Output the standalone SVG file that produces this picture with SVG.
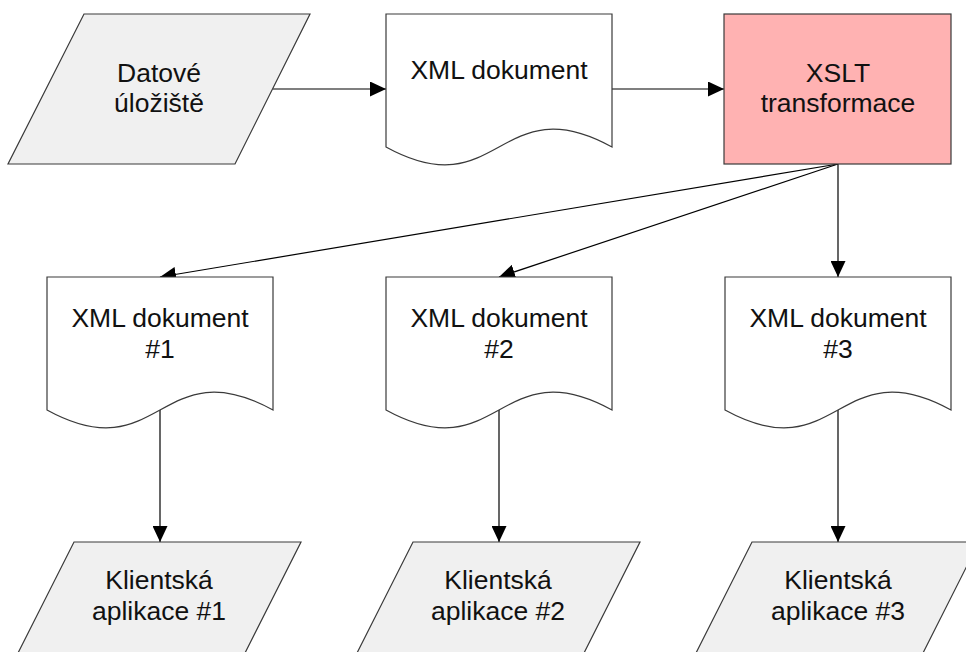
<svg xmlns="http://www.w3.org/2000/svg" width="966" height="652" viewBox="0 0 966 652">
  <defs>
    <marker id="arrow" markerUnits="userSpaceOnUse" markerWidth="17" markerHeight="15" refX="16" refY="7.5" orient="auto">
      <path d="M0,0 L16,7.5 L0,15 z" fill="#000"/>
    </marker>
    <style>
      .data { fill: #f0f0f0; stroke: #3a3a3a; stroke-width: 1.2; }
      .doc { fill: #ffffff; stroke: #3a3a3a; stroke-width: 1.2; }
      .proc { fill: #ffb2b2; stroke: #3a3a3a; stroke-width: 1.2; }
      .edge { fill: none; stroke: #000; stroke-width: 1.2; marker-end: url(#arrow); }
      text { font-family: "Liberation Sans", Arial, sans-serif; font-size: 26.5px; fill: #111; text-anchor: middle; }
    </style>
  </defs>

  <rect width="966" height="652" fill="#ffffff"/>

  <!-- connectors -->
  <g id="connectors">
    <line class="edge" x1="273" y1="89" x2="386" y2="89"/>
    <line class="edge" x1="612" y1="89" x2="724" y2="89"/>
    <line class="edge" x1="838" y1="164" x2="160" y2="277"/>
    <line class="edge" x1="838" y1="164" x2="499" y2="277"/>
    <line class="edge" x1="838" y1="164" x2="838" y2="277"/>
    <line class="edge" x1="160" y1="410" x2="160" y2="542"/>
    <line class="edge" x1="499" y1="410" x2="499" y2="542"/>
    <line class="edge" x1="838" y1="410" x2="838" y2="542"/>
  </g>

  <!-- data store -->
  <g id="datove-uloziste">
    <path class="data" d="M84,14 L310,14 L235,164 L8,164 Z"/>
    <text x="159" y="82">Datové</text>
    <text x="159" y="112">úložiště</text>
  </g>

  <!-- source document -->
  <g id="xml-dokument">
    <path class="doc" d="M386,14 L612,14 L612,147 C499,85 499,209 386,147 Z"/>
    <text x="499" y="79">XML dokument</text>
  </g>

  <!-- transformation -->
  <g id="xslt-transformace">
    <rect class="proc" x="724" y="14" width="227" height="150"/>
    <text x="838" y="82">XSLT</text>
    <text x="838" y="112">transformace</text>
  </g>

  <!-- output documents -->
  <g id="xml-dokument-1">
    <path class="doc" d="M47,277 L273,277 L273,410 C160,348 160,472 47,410 Z"/>
    <text x="160" y="327">XML dokument</text>
    <text x="160" y="358">#1</text>
  </g>
  <g id="xml-dokument-2">
    <path class="doc" d="M386,277 L612,277 L612,410 C499,348 499,472 386,410 Z"/>
    <text x="499" y="327">XML dokument</text>
    <text x="499" y="358">#2</text>
  </g>
  <g id="xml-dokument-3">
    <path class="doc" d="M725,277 L951,277 L951,410 C838,348 838,472 725,410 Z"/>
    <text x="838" y="327">XML dokument</text>
    <text x="838" y="358">#3</text>
  </g>

  <!-- client applications -->
  <g id="klientska-aplikace-1">
    <path class="data" d="M74,542 L301,542 L245,653 L18,653 Z"/>
    <text x="159" y="589">Klientská</text>
    <text x="159" y="620">aplikace #1</text>
  </g>
  <g id="klientska-aplikace-2">
    <path class="data" d="M413,542 L640,542 L584,653 L357,653 Z"/>
    <text x="498" y="589">Klientská</text>
    <text x="498" y="620">aplikace #2</text>
  </g>
  <g id="klientska-aplikace-3">
    <path class="data" d="M752,542 L979,542 L923,653 L696,653 Z"/>
    <text x="838" y="589">Klientská</text>
    <text x="838" y="620">aplikace #3</text>
  </g>
</svg>
